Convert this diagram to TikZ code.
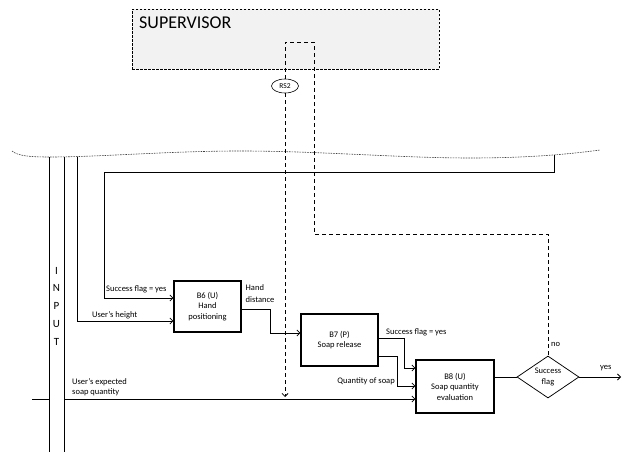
\documentclass[tikz,border=0pt]{standalone}
\usepackage{fontspec}
\setmainfont{Carlito}
\usetikzlibrary{shapes.geometric,arrows.meta,calc}
\begin{document}
\begin{tikzpicture}[x=1pt,y=-1pt,
  lbl/.style={font=\fontsize{8.5}{10.5}\selectfont, inner sep=0pt, align=left},
  blk/.style={draw, line width=1.3pt, align=center, font=\fontsize{8.5}{10.5}\selectfont, inner sep=0pt},
  conn/.style={line width=0.75pt},
  arr/.style={conn, -{Straight Barb[length=3pt,width=6pt]}},
  sdash/.style={line width=0.85pt, dash pattern=on 4pt off 3pt},
]
\useasboundingbox (0,0) rectangle (622,452);

% supervisor
\node[draw, fill=black!5, dash pattern=on 2.5pt off 1.5pt, line width=0.6pt, minimum width=307pt, minimum height=60pt, inner sep=0pt, anchor=north west] (sup) at (132,9) {};
\node[anchor=base west, inner sep=0pt, font=\fontsize{18}{20}\selectfont] (suptxt) at (139,29) {SUPERVISOR};

% RS2
\node[draw, ellipse, line width=0.6pt, minimum width=27pt, minimum height=14pt, inner sep=0pt, font=\fontsize{7.5}{8}\selectfont, fill=white] (rs2) at (285,86) {RS2};

% horizon curve
\draw[black!75, dash pattern=on 1.6pt off 1pt, line width=0.6pt] (12,151) .. controls (18,156) and (30,157) .. (50,157) .. controls (100,157) and (170,151) .. (240,151) .. controls (320,151) and (400,158) .. (470,158) .. controls (530,158) and (570,154) .. (600,150);

% blocks
\node[blk, minimum width=67pt, minimum height=51pt] (b6) at (207.5,306.5) {B6 (U)\\Hand\\positioning};
\node[blk, minimum width=77pt, minimum height=52pt] (b7) at (339.5,340) {B7 (P)\\Soap release};
\node[blk, minimum width=78pt, minimum height=53pt] (b8) at (455,386.5) {B8 (U)\\Soap quantity\\evaluation};
\node[draw, diamond, line width=0.75pt, minimum width=62pt, minimum height=42pt, aspect=1.48, inner sep=0pt, align=center, font=\fontsize{8.5}{10.5}\selectfont] (dia) at (548,377) {Success\\flag};

% INPUT bar
\draw[conn] (49,157) -- (49,452);
\draw[conn] (64,157) -- (64,452);
\node[anchor=north, inner sep=0pt, align=center, font=\fontsize{11}{17.8}\selectfont] (input) at (56.5,266.9) {I\\N\\P\\U\\T};

% supervisor loop (dashed)
\coordinate (lt) at (285,42);
\coordinate (rt) at (314,42);
\coordinate (rb) at (314,234);
\coordinate (db) at (548,234);
\coordinate (rsend) at (285,397);
\draw[sdash] (rs2.north) -- (lt) -- (rt) -- (rb) -- (db) -- (dia.north);
\draw[sdash, -{Straight Barb[length=3pt,width=6pt]}] (rs2.south) -- (rsend);

% success flag loop from top
\coordinate (sf0) at (554,155);
\coordinate (sf1) at (554,172);
\coordinate (sf2) at (104,172);
\coordinate (sf3) at (104,298);
\draw[arr] (sf0) -- (sf1) -- (sf2) -- (sf3) -- (b6.west |- sf3);
\node[lbl, anchor=base west] (l1) at (106,291) {Success flag = yes};

% user's height
\coordinate (uh0) at (77,157);
\coordinate (uh1) at (77,321);
\draw[arr] (uh0) -- (uh1) -- (b6.west |- uh1);
\node[lbl, anchor=base west] (l2) at (92,317) {User's height};

% hand distance
\coordinate (hd0) at (241,309);
\coordinate (hd1) at (270,309);
\coordinate (hd2) at (270,333);
\draw[arr] (b6.east |- hd0) -- (hd1) -- (hd2) -- (b7.west |- hd2);
\node[lbl, anchor=base west] (l3a) at (245.5,290.7) {Hand};
\node[lbl, anchor=base west] (l3b) at (245.5,302) {distance};

% B7 -> B8
\coordinate (s0) at (378,338);
\coordinate (s1) at (404,338);
\coordinate (s2) at (404,368);
\draw[arr] (b7.east |- s0) -- (s1) -- (s2) -- (b8.west |- s2);
\node[lbl, anchor=base west] (l4) at (386,334) {Success flag = yes};
\coordinate (q0) at (378,356);
\coordinate (q1) at (397,356);
\coordinate (q2) at (397,386);
\draw[arr] (b7.east |- q0) -- (q1) -- (q2) -- (b8.west |- q2);
\node[lbl, anchor=base east] (l5) at (395,383) {Quantity of soap};

% expected soap quantity
\coordinate (e0) at (32,399);
\coordinate (e1) at (49,399);
\coordinate (e2) at (64,399);
\draw[conn] (e0) -- (e1);
\draw[arr] (e2) -- (b8.west |- e2);
\node[lbl, anchor=base west] (l6a) at (72,384) {User's expected};
\node[lbl, anchor=base west] (l6b) at (72,394) {soap quantity};

% B8 -> diamond -> out
\draw[conn] (b8.east |- dia.west) -- (dia.west);
\coordinate (out) at (621,377);
\draw[arr] (dia.east) -- (out);
\node[lbl, anchor=base west] (l7) at (600,369) {yes};
\node[lbl, anchor=base west] (l8) at (551,346) {no};
\end{tikzpicture}
\end{document}
